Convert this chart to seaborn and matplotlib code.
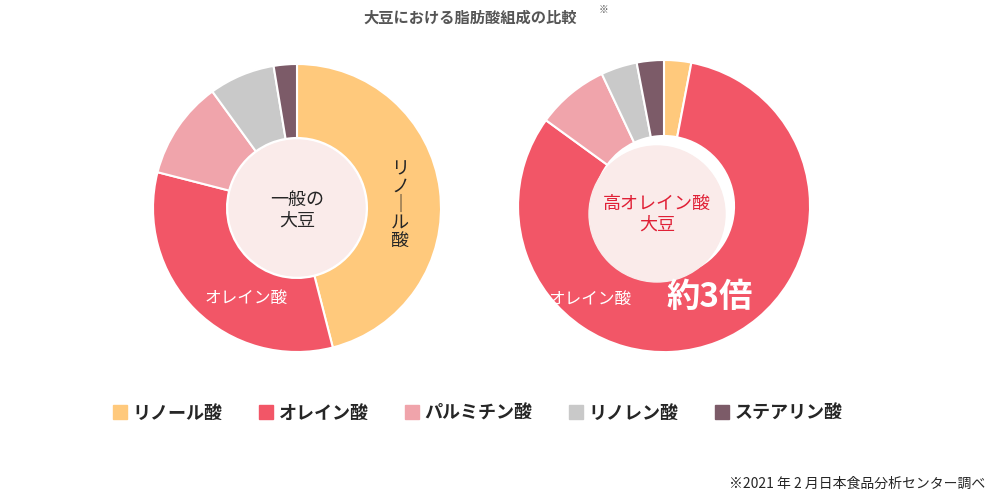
import matplotlib
matplotlib.use("Agg")
import matplotlib.pyplot as plt
import seaborn as sns
from matplotlib.patches import Circle, Patch

sns.set_theme(style="white")
plt.rcParams['font.family'] = ['Noto Sans CJK JP', 'DejaVu Sans']

labels = ["リノール酸", "オレイン酸", "パルミチン酸", "リノレン酸", "ステアリン酸"]
normal = [46, 33, 11, 7.4, 2.6]
high_oleic = [3, 82, 8, 4, 3]
colors = ["#FFC97C", "#F25667", "#F0A4AB", "#C9C9C9", "#7C5B68"]

fig = plt.figure(figsize=(9.95, 4.93), dpi=100)
ax = fig.add_axes([0, 0, 1, 1])

def donut(vals, center, r, explode=None):
    ax.pie(vals, colors=colors, startangle=-90, counterclock=True, center=center,
           radius=r, explode=explode, wedgeprops=dict(width=r - 70, edgecolor="white", linewidth=1.5),
           frame=True)

donut(normal, (297, 208), 144)
donut(high_oleic, (664, 206), 146, explode=[0, 0.1, 0, 0, 0])
ax.set_xlim(0, 995)
ax.set_ylim(493, 0)
ax.set_aspect("equal")
ax.axis("off")
ax.add_patch(Circle((297, 208), 68, color="#FAEBEA", zorder=5))
ax.add_patch(Circle((657, 214), 68, color="#FAEBEA", zorder=5))

ax.text(297, 210, "一般の\n大豆", ha="center", va="center", fontsize=13, zorder=6, linespacing=1.2)
ax.text(657, 214, "高オレイン酸\n大豆", ha="center", va="center", fontsize=13, color="#E02036", zorder=6, linespacing=1.2)
ax.text(400, 205, "リ\nノ\n｜\nル\n酸", ha="center", va="center", fontsize=13, zorder=6, linespacing=1.0)
ax.text(246, 298, "オレイン酸", ha="center", va="center", fontsize=12, color="white", zorder=6)
ax.text(590, 299, "オレイン酸", ha="center", va="center", fontsize=12, color="white", zorder=6)
ax.text(710, 298, "約3倍", ha="center", va="center", fontsize=24, fontweight="bold", color="white", zorder=6)
ax.text(470, 18, "大豆における脂肪酸組成の比較", ha="center", va="center", fontsize=11, color="#555555", fontweight="bold")
ax.text(603, 10, "※", ha="center", va="center", fontsize=7, color="#555555")
ax.text(985, 484, "※2021 年 2 月日本食品分析センター調べ", ha="right", va="center", fontsize=10)

handles = [Patch(color=c, label=l) for c, l in zip(colors, labels)]
fig.legend(handles=handles, loc="center", bbox_to_anchor=(0.48, 1 - 413 / 493), ncol=5, frameon=False,
           handlelength=0.8, handleheight=0.8, handletextpad=0.3, columnspacing=2.0,
           prop={"weight": "bold", "size": 13})

fig.savefig("out.png", dpi=100)
